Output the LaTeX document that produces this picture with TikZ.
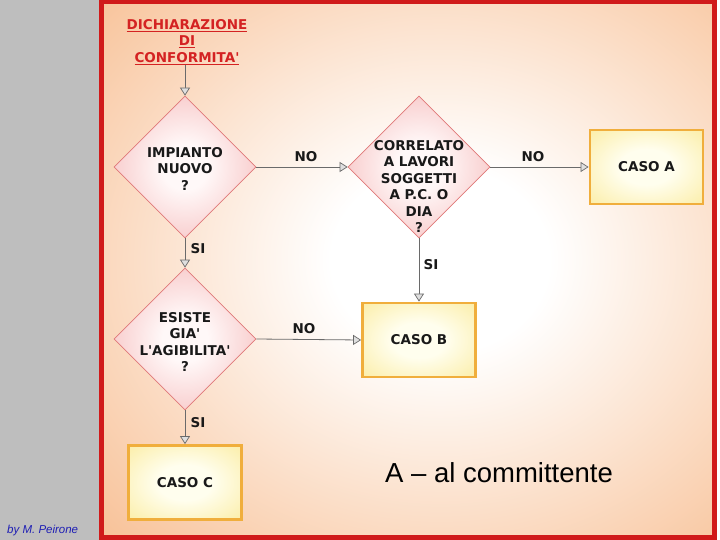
\documentclass[tikz,border=0pt]{standalone}
\usepackage{fontspec}
\newfontfamily\dvs{DejaVu Sans}
\newfontfamily\arialfont{Liberation Sans}
\usetikzlibrary{shapes.geometric,arrows.meta}
\definecolor{peach}{HTML}{F8C39A}
\definecolor{framered}{HTML}{D01A1A}
\definecolor{titlered}{HTML}{D42222}
\definecolor{stripgray}{HTML}{BEBEBE}
\definecolor{diapink}{HTML}{EE8585}
\definecolor{diamid}{HTML}{F7C4C4}
\definecolor{diawhite}{HTML}{FFF8F8}
\definecolor{diaborder}{HTML}{E07878}
\definecolor{boxyellow}{HTML}{F9E47E}
\definecolor{boxlight}{HTML}{FFFEEE}
\definecolor{boxborder}{HTML}{F0AE3C}
\definecolor{linegray}{HTML}{6A6A6A}
\definecolor{sigblue}{HTML}{1E1EB4}
\pgfdeclareradialshading{bgshade}{\pgfpoint{0bp}{0bp}}{color(0bp)=(white); color(8bp)=(white); color(34bp)=(peach); color(50bp)=(peach)}
\pgfdeclareradialshading{diashade}{\pgfpoint{0bp}{0bp}}{color(0bp)=(diawhite); color(8bp)=(diawhite); color(30bp)=(diamid); color(48bp)=(diapink); color(50bp)=(diapink)}
\pgfdeclareradialshading{boxshade}{\pgfpoint{0bp}{0bp}}{color(0bp)=(boxlight); color(12bp)=(boxlight); color(50bp)=(boxyellow)}
\tikzset{
  dia/.style={diamond, aspect=1, minimum width=142pt, minimum height=142pt, inner sep=0pt,
    draw=diaborder, line width=0.7pt, shading=diashade},
  casebox/.style={rectangle, minimum width=113pt, minimum height=74pt, inner sep=0pt,
    draw=boxborder, line width=2.8pt, shading=boxshade,
    font=\dvs\fontsize{13.5}{16.5}\selectfont\bfseries, text=black!90},
  dtext/.style={align=center, inner sep=0pt, anchor=north,
    font=\dvs\fontsize{13.5}{16.5}\selectfont\bfseries, text=black!90},
  lab/.style={inner sep=0pt, font=\dvs\fontsize{13.5}{16.5}\selectfont\bfseries, text=black!90},
  arr/.style={draw=linegray, line width=0.8pt,
    -{Triangle[length=8pt,width=10pt,fill=gray!25,line width=0.7pt]}}
}
\begin{document}
\begin{tikzpicture}[x=1pt,y=-1pt]
\useasboundingbox (0,0) rectangle (720,540);
% left gray strip
\fill[stripgray] (0,0) rectangle (100,540);
% background panel
\begin{scope}
  \clip (101.5,2) rectangle (714.5,537.5);
  \fill[peach] (101.5,2) rectangle (714.5,537.5);
  \path[shading=bgshade] (100,-30) rectangle (780,550);
\end{scope}
\draw[framered, line width=4.5pt] (101.5,2) rectangle (714.5,537.5);
% title
\node[align=center, inner sep=0pt, anchor=north, text=titlered,
  font=\dvs\fontsize{13.5}{16.5}\selectfont\bfseries] (title) at (187,19)
  {\underline{DICHIARAZIONE}\\\underline{DI}\\\underline{CONFORMITA'}};
% diamonds
\node[dia] (d1) at (185,167) {};
\node[dtext] (t1) at (185,147) {IMPIANTO\\NUOVO\\?};
\node[dia] (d2) at (419,167) {};
\node[dtext] (t2) at (419,140) {CORRELATO\\A LAVORI\\SOGGETTI\\A P.C. O\\DIA\\?};
\node[dia] (d3) at (185,339) {};
\node[dtext] (t3) at (185,312) {ESISTE\\GIA'\\L'AGIBILITA'\\?};
% boxes
\node[casebox] (ca) at (646.5,167) {CASO A};
\node[casebox] (cb) at (419,340) {CASO B};
\node[casebox] (cc) at (185,482.5) {CASO C};
% connectors
\draw[arr] (d1.north |- title.south) -- (d1.north);
\draw[arr] (d1.east) -- (d2.west);
\draw[arr] (d2.east) -- (ca.west);
\draw[arr] (d2.south) -- (cb.north);
\draw[arr] (d1.south) -- (d3.north);
\draw[arr] (d3.east) -- (cb.west);
\draw[arr] (d3.south) -- (cc.north);
% labels
\node[lab] (l1) at (306,157) {NO};
\node[lab] (l2) at (533,157) {NO};
\node[lab] (l3) at (431,265) {SI};
\node[lab] (l4) at (198,249) {SI};
\node[lab] (l5) at (304,329) {NO};
\node[lab] (l6) at (198,423) {SI};
% texts
\node[anchor=base west, inner sep=0pt, font=\arialfont\fontsize{27.5}{30}\selectfont] (note) at (385,482) {A – al committente};
\node[anchor=base west, inner sep=0pt, text=sigblue, font=\arialfont\itshape\fontsize{11.5}{13}\selectfont] (sig) at (7,533) {by M. Peirone};
\end{tikzpicture}
\end{document}
